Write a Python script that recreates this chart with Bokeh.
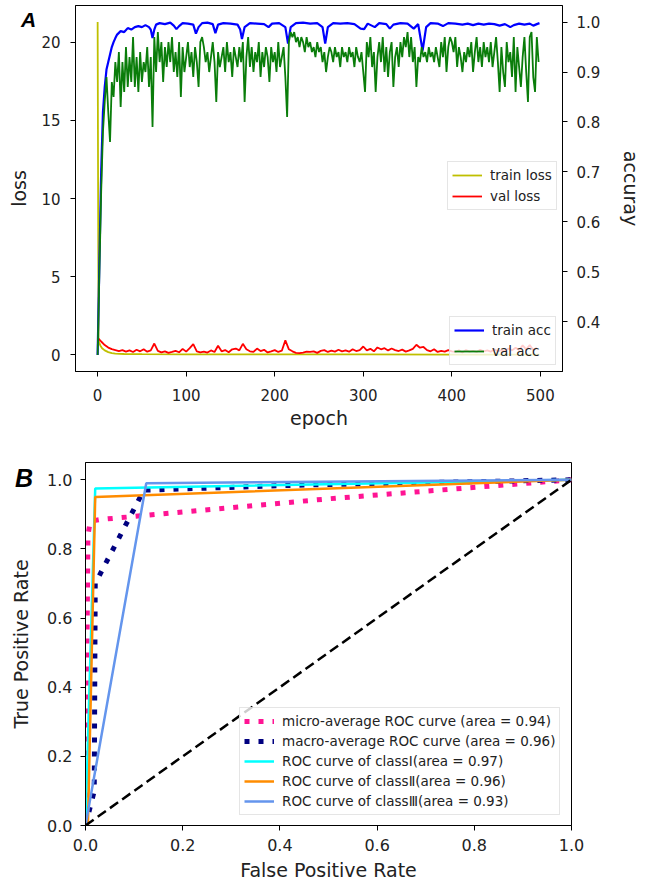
from bokeh.plotting import figure
from bokeh.models import Range1d, LinearAxis, Legend, LegendItem, FixedTicker, PrintfTickFormatter, Div
from bokeh.embed import file_html
from bokeh.resources import INLINE

FONT = "DejaVu Sans"
TXT = "#222222"

# ---------------- Panel A data ----------------
loss_ticks = [0, 5, 10, 15, 20]
acc_ticks = [0.4, 0.5, 0.6, 0.7, 0.8, 0.9, 1.0]
epoch_ticks = [0, 100, 200, 300, 400, 500]

train_loss_epoch = [0, 1, 2, 3, 5, 8, 12, 16, 20, 30, 50, 100, 200, 300, 400, 499]
train_loss = [21.3, 0.95, 0.75, 0.6, 0.42, 0.28, 0.17, 0.1, 0.07, 0.05, 0.04, 0.03, 0.02, 0.02, 0.015, 0.01]

val_loss_epoch = list(range(0, 500, 4))
val_loss = [
    1.10, 0.85, 0.62, 0.46, 0.36, 0.30, 0.24, 0.30, 0.20, 0.28,
    0.18, 0.32, 0.22, 0.35, 0.20, 0.28, 0.72, 0.25, 0.15, 0.22,
    0.12, 0.18, 0.25, 0.16, 0.38, 0.20, 0.42, 0.68, 0.22, 0.15,
    0.20, 0.14, 0.28, 0.18, 0.58, 0.22, 0.30, 0.16, 0.35, 0.40,
    0.28, 0.70, 0.35, 0.22, 0.18, 0.40, 0.24, 0.32, 0.15, 0.22,
    0.30, 0.18, 0.26, 0.92, 0.35, 0.22, 0.12, 0.10, 0.14, 0.20,
    0.18, 0.22, 0.12, 0.25, 0.30, 0.18, 0.26, 0.20, 0.32, 0.22,
    0.28, 0.20, 0.35, 0.24, 0.30, 0.53, 0.28, 0.38, 0.22, 0.47,
    0.35, 0.42, 0.28, 0.40, 0.30, 0.24, 0.33, 0.20, 0.28, 0.38,
    0.64, 0.45, 0.50, 0.30, 0.22, 0.35, 0.18, 0.25, 0.20, 0.30,
    0.22, 0.18, 0.28, 0.15, 0.30, 0.20, 0.25, 0.18, 0.32, 0.22,
    0.28, 0.20, 0.35, 0.22, 0.30, 0.25, 0.40, 0.28, 0.45, 0.30,
    0.60, 0.35, 0.62, 0.30, 0.45,
]

train_acc_epoch = [
    0, 2, 4, 6, 8, 10, 12, 14, 16, 18, 20, 22, 26, 30, 34, 38, 42, 46, 50, 54,
    58, 60, 62, 64, 66, 70, 76, 82, 86, 89, 92, 96, 102, 108, 111, 114, 118, 124, 130, 133,
    136, 142, 150, 158, 161, 163, 166, 172, 180, 188, 193, 197, 205, 212, 215, 218, 224, 232, 240, 248,
    254, 257, 260, 266, 274, 282, 290, 297, 301, 305, 313, 318, 326, 330, 334, 342, 350, 357, 362, 367,
    371, 376, 384, 390, 396, 404, 412, 418, 424, 430, 436, 442, 448, 454, 460, 466, 470, 476, 482, 488,
    492, 496, 499,
]
train_acc = [
    0.333, 0.52, 0.70, 0.82, 0.87, 0.905, 0.92, 0.935, 0.95, 0.96, 0.968, 0.975, 0.982, 0.98, 0.988, 0.985, 0.99, 0.992, 0.99, 0.994,
    0.99, 0.985, 0.968, 0.985, 0.995, 0.998, 0.996, 0.999, 0.993, 0.986, 0.992, 0.998, 0.997, 0.995, 0.977, 0.99, 0.998, 0.999, 0.996, 0.978,
    0.995, 0.998, 0.997, 0.995, 0.985, 0.966, 0.99, 0.998, 0.997, 0.996, 0.99, 0.997, 0.998, 0.99, 0.957, 0.99, 0.998, 0.999, 0.997, 0.998,
    0.99, 0.957, 0.99, 0.998, 0.997, 0.998, 0.996, 0.987, 0.986, 0.997, 0.99, 0.998, 0.996, 0.987, 0.995, 0.998, 0.997, 0.987, 0.996, 0.943,
    0.99, 0.998, 0.997, 0.992, 0.998, 0.997, 0.995, 0.997, 0.994, 0.997, 0.995, 0.997, 0.996, 0.993, 0.996, 0.99, 0.994, 0.997, 0.995, 0.997,
    0.993, 0.996, 0.998,
]

val_acc_epoch = list(range(0, 500, 2))
val_acc = [
    0.333, 0.50, 0.66, 0.78, 0.84, 0.89, 0.82, 0.76, 0.88, 0.85,
    0.92, 0.88, 0.94, 0.83, 0.92, 0.86, 0.95, 0.87, 0.93, 0.88,
    0.97, 0.87, 0.93, 0.86, 0.94, 0.88, 0.92, 0.90, 0.95, 0.87,
    0.93, 0.79, 0.97, 0.90, 0.98, 0.92, 0.96, 0.88, 0.95, 0.91,
    0.96, 0.92, 0.97, 0.90, 0.94, 0.89, 0.96, 0.85, 0.95, 0.90,
    0.93, 0.96, 0.91, 0.94, 0.89, 0.95, 0.92, 0.87, 0.96, 0.97,
    0.95, 0.92, 0.94, 0.90, 0.93, 0.96, 0.92, 0.84, 0.94, 0.91,
    0.93, 0.95, 0.90, 0.96, 0.92, 0.94, 0.89, 0.95, 0.93, 0.91,
    0.95, 0.92, 0.96, 0.84, 0.93, 0.97, 0.91, 0.95, 0.90, 0.94,
    0.92, 0.96, 0.89, 0.94, 0.91, 0.95, 0.93, 0.88, 0.95, 0.92,
    0.94, 0.90, 0.96, 0.91, 0.93, 0.95, 0.89, 0.81, 0.96, 0.98,
    0.97, 0.98, 0.96, 0.97, 0.95, 0.97, 0.96, 0.94, 0.97, 0.95,
    0.96, 0.94, 0.95, 0.93, 0.96, 0.94, 0.95, 0.92, 0.94, 0.90,
    0.93, 0.95, 0.94, 0.92, 0.95, 0.93, 0.94, 0.91, 0.95, 0.93,
    0.94, 0.92, 0.95, 0.93, 0.94, 0.91, 0.95, 0.93, 0.92, 0.94,
    0.90, 0.86, 0.96, 0.93, 0.97, 0.91, 0.94, 0.86, 0.93, 0.96,
    0.92, 0.97, 0.90, 0.95, 0.89, 0.94, 0.96, 0.87, 0.93, 0.95,
    0.91, 0.96, 0.93, 0.97, 0.95, 0.98, 0.93, 0.97, 0.92, 0.95,
    0.87, 0.93, 0.92, 0.95, 0.93, 0.94, 0.92, 0.95, 0.93, 0.94,
    0.92, 0.95, 0.93, 0.91, 0.96, 0.93, 0.97, 0.90, 0.95, 0.97,
    0.96, 0.94, 0.97, 0.91, 0.95, 0.93, 0.90, 0.94, 0.92, 0.95,
    0.93, 0.96, 0.90, 0.94, 0.97, 0.92, 0.95, 0.91, 0.96, 0.93,
    0.95, 0.92, 0.96, 0.91, 0.94, 0.97, 0.92, 0.86, 0.95, 0.90,
    0.87, 0.96, 0.92, 0.94, 0.89, 0.97, 0.86, 0.95, 0.91, 0.87,
    0.93, 0.97, 0.90, 0.84, 0.97, 0.98, 0.89, 0.86, 0.97, 0.92,
]

# ---------------- Panel B data ----------------
rate_ticks = [0.0, 0.2, 0.4, 0.6, 0.8, 1.0]

micro_fpr = [0.0, 0.005, 0.01, 0.03, 0.5, 1.0]
micro_tpr = [0.0, 0.84, 0.88, 0.885, 0.945, 1.0]
macro_fpr = [0.0, 0.018, 0.02, 0.12, 0.45, 1.0]
macro_tpr = [0.0, 0.10, 0.70, 0.97, 0.985, 1.0]
c1_fpr = [0.0, 0.02, 1.0]
c1_tpr = [0.0, 0.975, 1.0]
c2_fpr = [0.0, 0.005, 0.02, 1.0]
c2_tpr = [0.0, 0.0, 0.95, 1.0]
c3_fpr = [0.0, 0.125, 1.0]
c3_tpr = [0.0, 0.99, 1.0]
diag_x = [0.0, 1.0]
diag_y = [0.0, 1.0]

labels_B = [
    "micro-average ROC curve (area = 0.94)",
    "macro-average ROC curve (area = 0.96)",
    "ROC curve of class\u2160(area = 0.97)",
    "ROC curve of class\u2161(area = 0.96)",
    "ROC curve of class\u2162(area = 0.93)",
]


def style_axis(ax, fs, tick_standoff, label_standoff, label_fs="19px"):
    ax.axis_line_color = "black"
    ax.axis_line_width = 1
    ax.major_tick_line_color = "black"
    ax.major_tick_out = 5
    ax.major_tick_in = 0
    ax.minor_tick_line_color = None
    ax.major_label_text_font = FONT
    ax.major_label_text_font_size = fs
    ax.major_label_text_color = TXT
    ax.major_label_standoff = tick_standoff
    ax.axis_label_text_font = FONT
    ax.axis_label_text_font_size = label_fs
    ax.axis_label_text_font_style = "normal"
    ax.axis_label_text_color = TXT
    ax.axis_label_standoff = label_standoff


def style_legend(lg, fs, lh, gw, pad, sp):
    lg.label_text_font = FONT
    lg.label_text_font_size = fs
    lg.label_text_color = TXT
    lg.label_height = lh
    lg.glyph_height = lh
    lg.glyph_width = gw
    lg.label_standoff = 8
    lg.padding = pad
    lg.spacing = sp
    lg.margin = 0
    lg.border_line_color = "#cccccc"
    lg.border_line_width = 1
    lg.background_fill_alpha = 0.8


# ---------------- Panel A ----------------
pA = figure(width=645, height=441, x_range=Range1d(-25, 525), y_range=Range1d(-1.07, 22.35),
            output_backend="svg", toolbar_location=None,
            min_border_left=75, min_border_right=79, min_border_top=5, min_border_bottom=70)
pA.extra_y_ranges = {"acc": Range1d(0.30, 1.0333)}
pA.xgrid.visible = False
pA.ygrid.visible = False
pA.outline_line_color = "black"
pA.outline_line_width = 1

pA.xaxis.axis_label = "epoch"
pA.yaxis.axis_label = "loss"
pA.xaxis.ticker = FixedTicker(ticks=epoch_ticks)
pA.yaxis.ticker = FixedTicker(ticks=loss_ticks)
style_axis(pA.xaxis[0], "15px", 12, 3)
style_axis(pA.yaxis[0], "15px", 10, 8)

acc_axis = LinearAxis(y_range_name="acc", axis_label="accuray",
                      ticker=FixedTicker(ticks=acc_ticks),
                      formatter=PrintfTickFormatter(format="%.1f"))
style_axis(acc_axis, "15px", 9, 17)
pA.add_layout(acc_axis, "right")

r_tl = pA.line(train_loss_epoch, train_loss, line_color="#bfbf00", line_width=1.8)
r_vl = pA.line(val_loss_epoch, val_loss, line_color="#ff0000", line_width=1.8)
r_ta = pA.line(train_acc_epoch, train_acc, line_color="#0000ff", line_width=2.2, y_range_name="acc")
r_va = pA.line(val_acc_epoch, val_acc, line_color="#0a7d0a", line_width=1.8, y_range_name="acc")

legA1 = Legend(items=[LegendItem(label="train loss", renderers=[r_tl]),
                      LegendItem(label="val loss", renderers=[r_vl])], location=(372, 161))
legA2 = Legend(items=[LegendItem(label="train acc", renderers=[r_ta]),
                      LegendItem(label="val acc", renderers=[r_va])], location=(374, 6))
for lg in (legA1, legA2):
    style_legend(lg, "13.5px", 18, 30, 4, 3)
    pA.add_layout(lg)

# ---------------- Panel B ----------------
pB = figure(width=645, height=448, x_range=Range1d(0, 1), y_range=Range1d(0, 1.05),
            output_backend="svg", toolbar_location=None,
            min_border_left=85, min_border_right=74, min_border_top=21, min_border_bottom=64)
pB.xgrid.visible = False
pB.ygrid.visible = False
pB.outline_line_color = "black"
pB.outline_line_width = 1
pB.xaxis.axis_label = "False Positive Rate"
pB.yaxis.axis_label = "True Positive Rate"
pB.xaxis.ticker = FixedTicker(ticks=rate_ticks)
pB.yaxis.ticker = FixedTicker(ticks=rate_ticks)
pB.xaxis.formatter = PrintfTickFormatter(format="%.1f")
pB.yaxis.formatter = PrintfTickFormatter(format="%.1f")
style_axis(pB.xaxis[0], "16px", 8, 5)
style_axis(pB.yaxis[0], "16px", 8, 12)

r_mi = pB.line(micro_fpr, micro_tpr, line_color="#ff1493", line_width=5, line_dash="5 9")
r_ma = pB.line(macro_fpr, macro_tpr, line_color="#000080", line_width=5, line_dash="5 9")
r_c1 = pB.line(c1_fpr, c1_tpr, line_color="#00ffff", line_width=2.5)
r_c2 = pB.line(c2_fpr, c2_tpr, line_color="#ff8c00", line_width=2.5)
r_c3 = pB.line(c3_fpr, c3_tpr, line_color="#6495ed", line_width=2.5)
pB.line(diag_x, diag_y, line_color="black", line_width=2.5, line_dash="10 5")

legB = Legend(items=[LegendItem(label=labels_B[0], renderers=[r_mi]),
                     LegendItem(label=labels_B[1], renderers=[r_ma]),
                     LegendItem(label=labels_B[2], renderers=[r_c1]),
                     LegendItem(label=labels_B[3], renderers=[r_c2]),
                     LegendItem(label=labels_B[4], renderers=[r_c3])], location=(154, 10))
style_legend(legB, "13.5px", 18, 30, 4, 2)
pB.add_layout(legB)

# ---------------- panel letters ----------------
def letter(ch, left, top, size):
    st = ("font-family:'Liberation Sans',Arial,sans-serif;font-weight:bold;font-style:italic;"
          "font-size:%dpx;line-height:%dpx;color:black;white-space:nowrap;" % (size, size))
    return Div(text='<span style="%s">%s</span>' % (st, ch),
               styles={"position": "absolute", "left": "%dpx" % left, "top": "%dpx" % top,
                       "z-index": "10", "line-height": "%dpx" % size, "font-size": "%dpx" % size,
                       "margin": "0", "padding": "0"})

divA = letter("A", 21, 9, 21)
divB = letter("B", 15, 466, 25)

open("out.html", "w").write(file_html([pA, pB, divA, divB], INLINE))
